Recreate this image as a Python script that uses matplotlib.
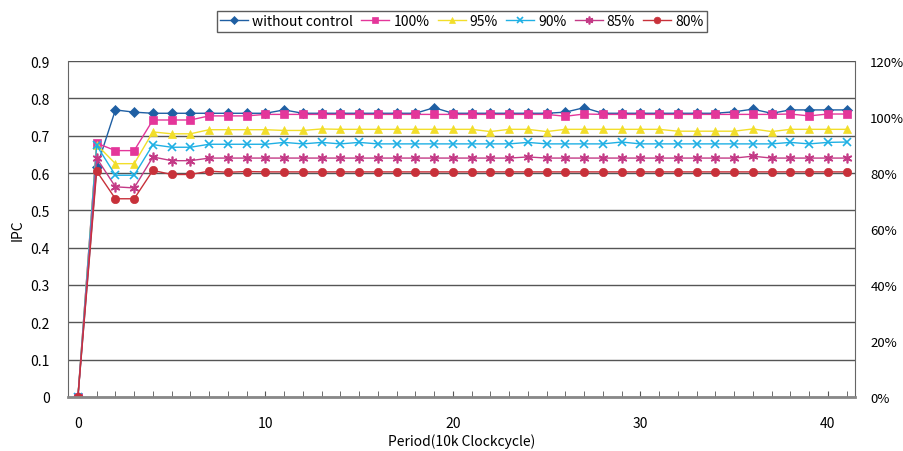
import matplotlib.pyplot as plt
import numpy as np
from matplotlib.ticker import MultipleLocator, FuncFormatter

plt.rcParams['font.family'] = ['Noto Sans CJK JP', 'DejaVu Sans']

period = np.arange(0, 42)

# IPC values
without_control = [0, 0.615, 0.769, 0.763, 0.76, 0.76, 0.76, 0.76, 0.76, 0.76, 0.76,
                   0.769, 0.76, 0.76, 0.76, 0.76, 0.76, 0.76, 0.76, 0.775, 0.76,
                   0.76, 0.76, 0.76, 0.76, 0.76, 0.763, 0.775, 0.76, 0.76, 0.76,
                   0.76, 0.76, 0.76, 0.76, 0.764, 0.771, 0.76, 0.769, 0.769, 0.769, 0.769]
pct_100 = [0, 0.68, 0.66, 0.66, 0.742, 0.742, 0.742, 0.753, 0.753, 0.753, 0.757,
           0.757, 0.757, 0.757, 0.757, 0.757, 0.757, 0.757, 0.757, 0.757, 0.757,
           0.757, 0.757, 0.757, 0.757, 0.757, 0.752, 0.758, 0.757, 0.757, 0.757,
           0.757, 0.757, 0.757, 0.757, 0.757, 0.757, 0.757, 0.758, 0.753, 0.758, 0.758]
pct_95 = [0, 0.676, 0.625, 0.625, 0.71, 0.705, 0.705, 0.716, 0.716, 0.716, 0.716,
          0.714, 0.714, 0.718, 0.717, 0.717, 0.717, 0.717, 0.717, 0.717, 0.717,
          0.717, 0.711, 0.717, 0.717, 0.711, 0.717, 0.717, 0.717, 0.717, 0.717,
          0.717, 0.712, 0.712, 0.712, 0.712, 0.718, 0.711, 0.717, 0.717, 0.717, 0.717]
pct_90 = [0, 0.674, 0.594, 0.594, 0.676, 0.669, 0.669, 0.677, 0.677, 0.677, 0.677,
          0.682, 0.678, 0.682, 0.678, 0.682, 0.678, 0.678, 0.678, 0.678, 0.678,
          0.678, 0.678, 0.678, 0.682, 0.678, 0.678, 0.678, 0.678, 0.683, 0.678,
          0.678, 0.678, 0.678, 0.678, 0.678, 0.678, 0.678, 0.682, 0.678, 0.682, 0.683]
pct_85 = [0, 0.64, 0.563, 0.56, 0.643, 0.633, 0.633, 0.64, 0.64, 0.64, 0.64,
          0.64, 0.64, 0.64, 0.64, 0.64, 0.64, 0.64, 0.64, 0.64, 0.64,
          0.64, 0.64, 0.64, 0.643, 0.64, 0.64, 0.64, 0.64, 0.64, 0.64,
          0.64, 0.64, 0.64, 0.64, 0.64, 0.645, 0.64, 0.64, 0.64, 0.64, 0.64]
pct_80 = [0, 0.605, 0.531, 0.531, 0.607, 0.596, 0.596, 0.605, 0.602, 0.604, 0.603,
          0.603, 0.603, 0.603, 0.603, 0.603, 0.603, 0.603, 0.603, 0.603, 0.603,
          0.603, 0.603, 0.603, 0.603, 0.603, 0.603, 0.603, 0.603, 0.603, 0.603,
          0.603, 0.603, 0.603, 0.603, 0.603, 0.603, 0.603, 0.603, 0.603, 0.603, 0.603]

series = [
    ('without control', without_control, '#1f5fa3', 'D', 5),
    ('100%', pct_100, '#e4369a', 's', 5.5),
    ('95%', pct_95, '#f2de2a', '^', 6),
    ('90%', pct_90, '#1fb0e4', 'x', 6),
    ('85%', pct_85, '#c43a86', (6, 2, 0), 7),
    ('80%', pct_80, '#c8313a', 'o', 6),
]

fig = plt.figure(figsize=(9.04, 4.52), dpi=100)
ax = fig.add_axes([0.0752, 0.1195, 0.8706, 0.7433])

for name, vals, color, marker, ms in series:
    thin = marker == 'x' or isinstance(marker, tuple)
    ax.plot(period, vals, color=color, marker=marker, markersize=ms, linewidth=1.0,
            markeredgewidth=1.2 if thin else 0.5, markeredgecolor=color, label=name)

ax.set_xlim(-0.53, 41.45)
ax.set_ylim(0, 0.9)
ax.yaxis.set_major_locator(MultipleLocator(0.1))
ax.yaxis.set_major_formatter(FuncFormatter(lambda v, p: f'{round(v, 1):g}'))
ax.xaxis.set_major_locator(MultipleLocator(10))
ax.xaxis.set_minor_locator(MultipleLocator(1))
ax.grid(axis='y', color='#555555', linewidth=1.0)
ax.set_axisbelow(True)
ax.tick_params(axis='x', which='both', direction='in', length=4, color='#555555',
               labelsize=10, pad=14)
ax.tick_params(axis='y', length=0, labelsize=10, pad=13)
for s in ['left', 'right']:
    ax.spines[s].set_color('#666666')
ax.spines['top'].set_visible(False)
ax.spines['bottom'].set_color('#888888')
ax.spines['bottom'].set_linewidth(2)

ax2 = ax.twinx()
ax2.set_ylim(0, 1.2)
ax2.yaxis.set_major_locator(MultipleLocator(0.2))
ax2.yaxis.set_major_formatter(FuncFormatter(lambda v, p: f'{int(round(v * 100))}%'))
ax2.tick_params(axis='y', length=0, labelsize=9.5, pad=11)
for s in ax2.spines.values():
    s.set_visible(False)

ax.set_ylabel('IPC', fontsize=10, labelpad=4)
ax.set_xlabel('Period(10k Clockcycle)', fontsize=10, labelpad=2)

leg = fig.legend(loc='upper center', bbox_to_anchor=(0.511, 0.98), ncol=6,
                 fontsize=10, frameon=True, fancybox=False, edgecolor='#333333',
                 handlelength=2.0, handletextpad=0.3, columnspacing=0.6,
                 borderpad=0.25, borderaxespad=0.2, markerscale=0.8)
leg.get_frame().set_linewidth(1.0)

fig.savefig('out.png', dpi=100)
